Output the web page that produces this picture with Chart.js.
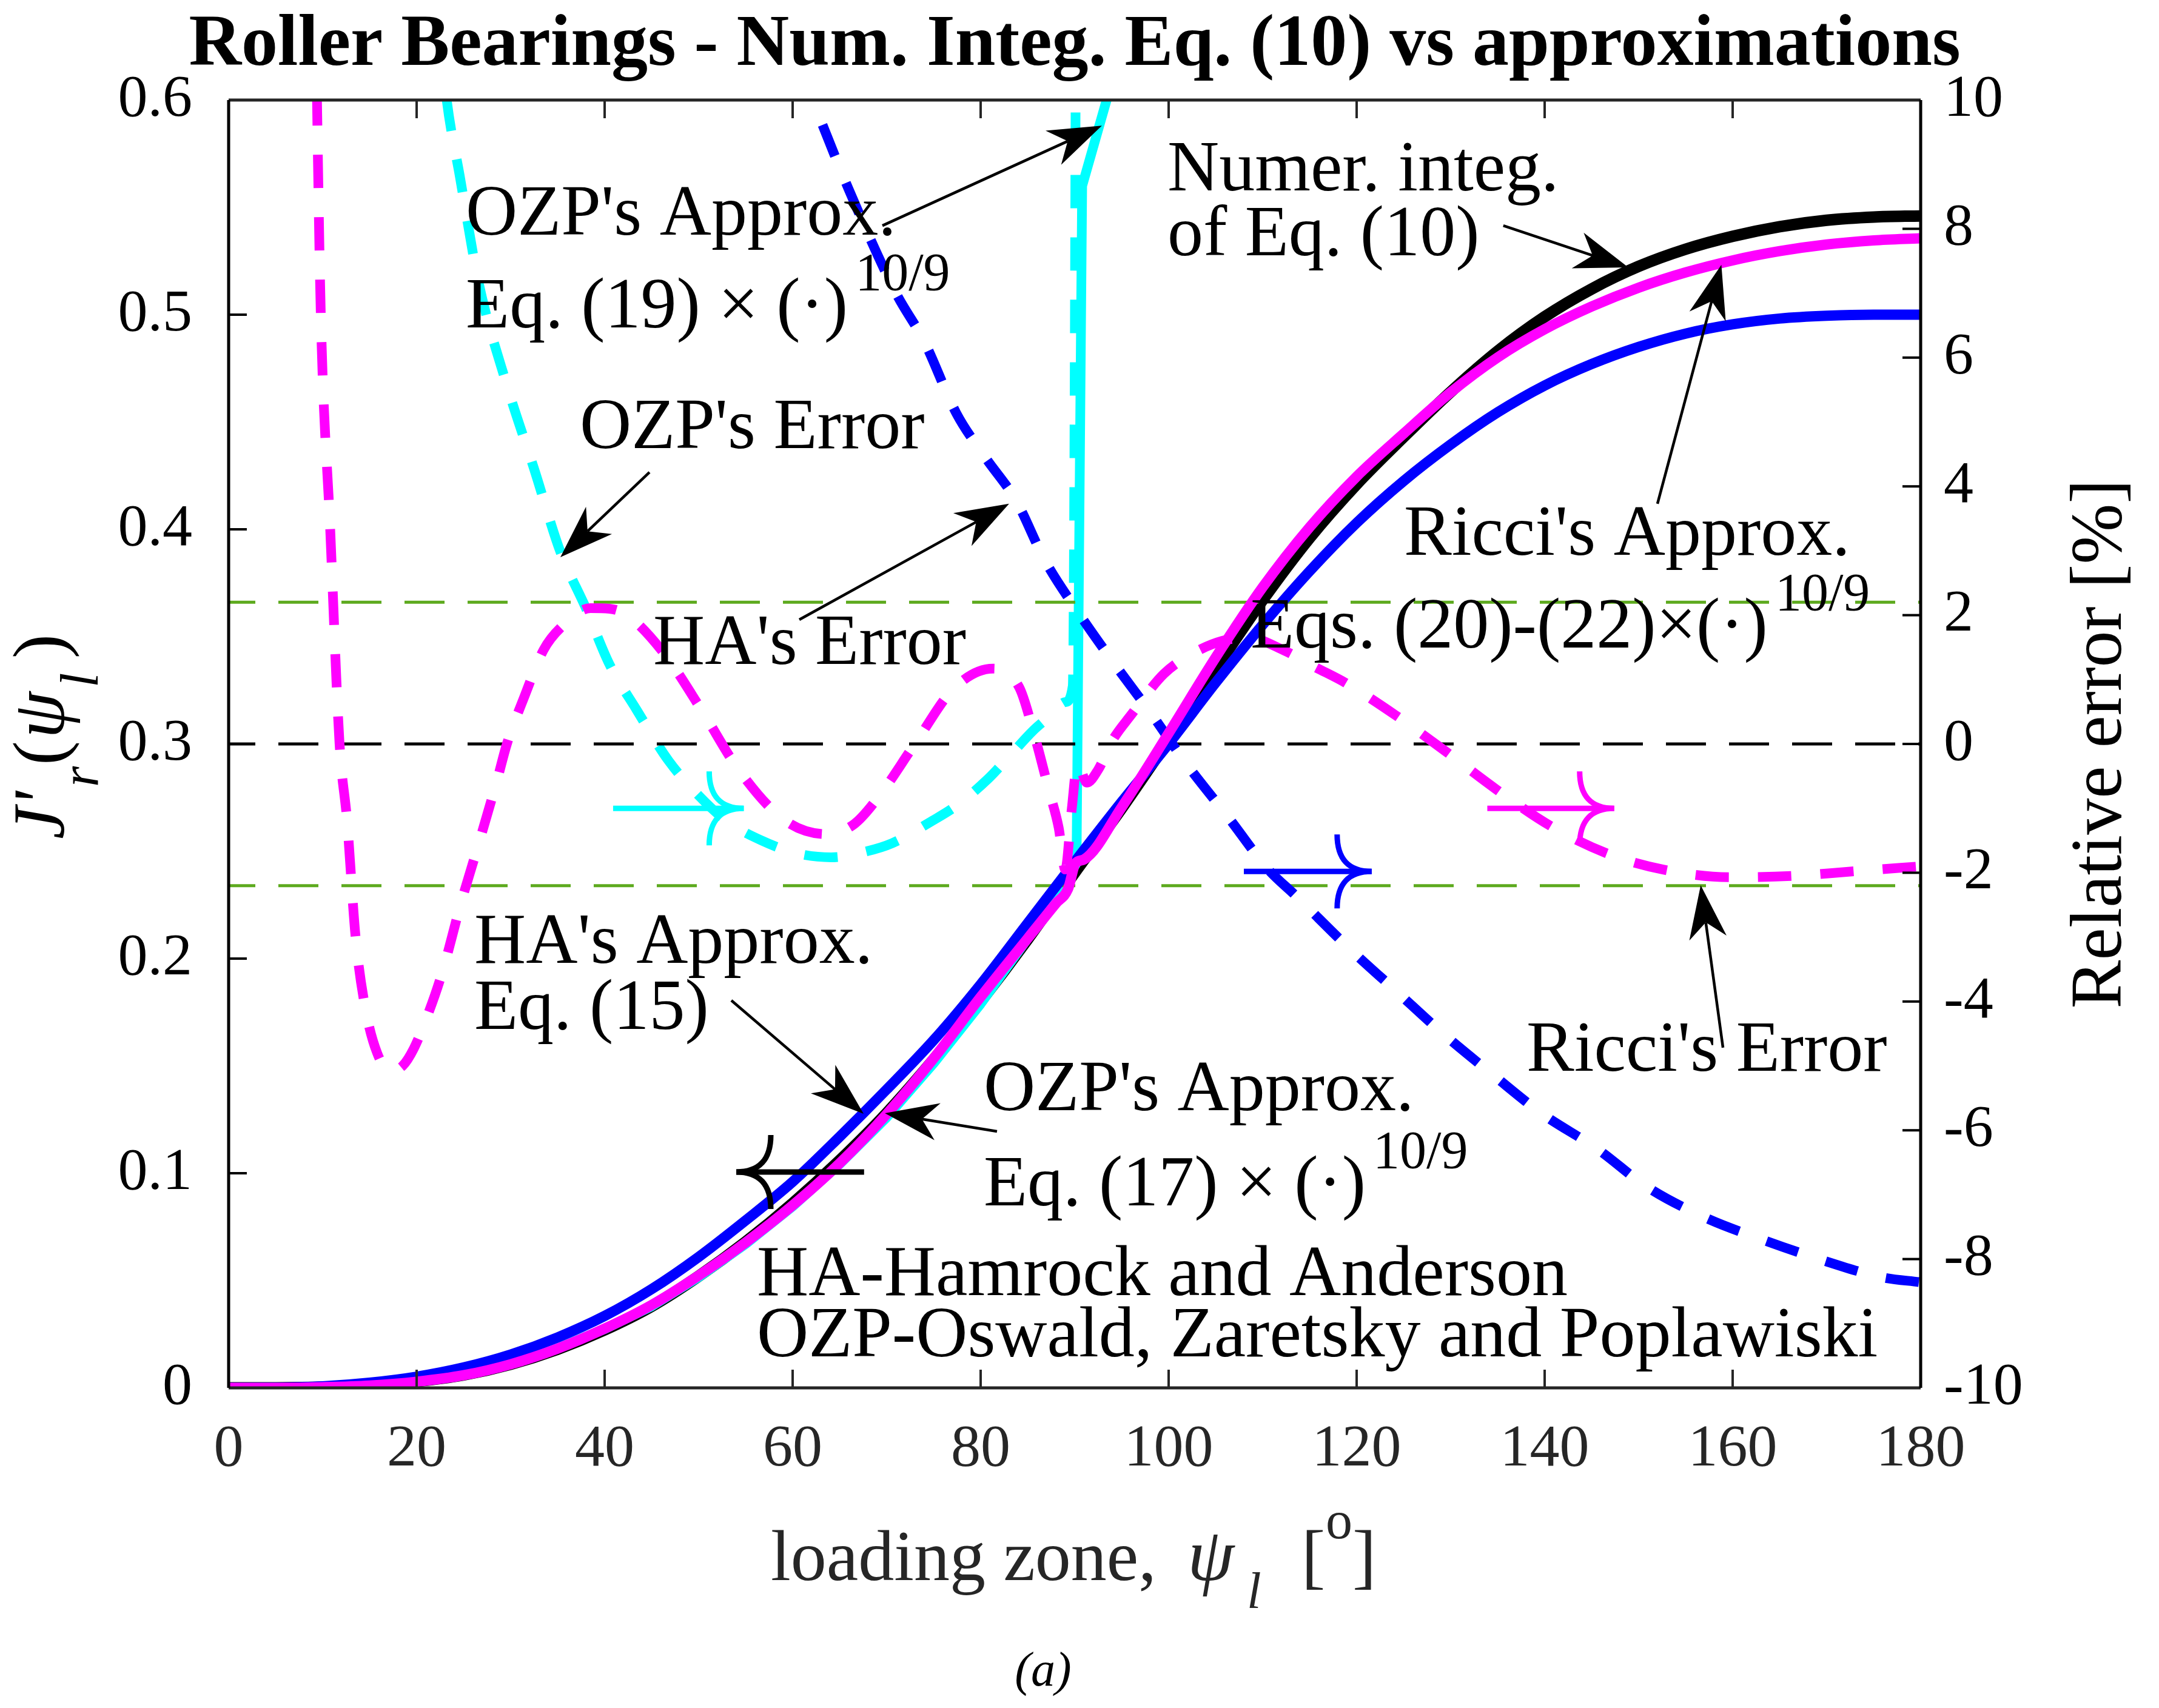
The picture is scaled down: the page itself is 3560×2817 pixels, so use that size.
<!DOCTYPE html>
<html>
<head>
<meta charset="utf-8">
<title>Roller Bearings - Num. Integ. Eq. (10) vs approximations</title>
<script src="https://cdn.jsdelivr.net/npm/chart.js@4.4.1/dist/chart.umd.min.js"></script>
<style>
  html, body { margin: 0; padding: 0; background: #fff; }
  canvas { display: block; }
</style>
</head>
<body>
<canvas id="bearingChart" width="3560" height="2817"></canvas>
<script>
// ---- Solid curves : J'r(psi) (left axis) ----
const psiNum = [0, 5, 10, 15, 20, 25, 30, 35, 40, 45, 50, 55, 60, 65, 70, 75, 80, 85, 90, 95,
                100, 105, 110, 115, 120, 125, 130, 135, 140, 145, 150, 155, 160, 165, 170, 175, 180];
const jNum   = [0, 0.00003, 0.0003, 0.0011, 0.003, 0.006, 0.011, 0.018, 0.027, 0.038, 0.052, 0.068,
                0.086, 0.106, 0.128, 0.153, 0.180, 0.209, 0.240, 0.270, 0.302, 0.335, 0.367, 0.396,
                0.421, 0.443, 0.464, 0.483, 0.499, 0.512, 0.5225, 0.5305, 0.5365, 0.541, 0.544, 0.5455, 0.546];

const psiHa = psiNum;
const jHa   = [0, 0.0001, 0.0007, 0.0024, 0.0052, 0.0095, 0.0155, 0.0235, 0.0335, 0.046, 0.061, 0.078,
               0.096, 0.117, 0.139, 0.162, 0.188, 0.2165, 0.245, 0.273, 0.300, 0.3285, 0.3555, 0.3805,
               0.403, 0.4225, 0.4395, 0.4545, 0.467, 0.477, 0.485, 0.4912, 0.4955, 0.4982, 0.4995, 0.5, 0.5];

const psiRicci = [0, 5, 10, 15, 20, 25, 30, 35, 40, 45, 50, 55, 60, 65, 70, 75, 80, 85, 88, 89.3, 90.1, 91,
                  95, 100, 105, 110, 115, 120, 125, 130, 135, 140, 145, 150, 155, 160, 165, 170, 175, 180];
const jRicci   = [0, 0.00003, 0.0003, 0.00105, 0.00287, 0.00588, 0.0110, 0.0183, 0.0276, 0.0386, 0.0523,
                  0.0677, 0.0850, 0.1046, 0.1275, 0.1535, 0.1821, 0.2094, 0.2257, 0.2325, 0.2445, 0.2462,
                  0.2705, 0.3050, 0.3403, 0.3730, 0.4010, 0.4246, 0.4446, 0.4638, 0.4801, 0.4932, 0.5038,
                  0.5126, 0.5197, 0.5253, 0.5296, 0.5327, 0.5346, 0.5356];

const psiOzp = [0, 5, 10, 15, 20, 25, 30, 35, 40, 45, 50, 55, 60, 65, 70, 75, 80, 85, 88, 90.2, 90.8, 93.4, 96];
const jOzp   = [0, 0.00004, 0.0004, 0.0013, 0.0034, 0.0065, 0.0116, 0.0186, 0.0274, 0.038, 0.0516, 0.067,
                0.0845, 0.1042, 0.126, 0.1512, 0.1789, 0.2094, 0.2289, 0.2445, 0.56, 0.6, 0.64];

// ---- Dashed curves : relative error in % (right axis) ----
const psiHaErr = [58, 62.1, 66, 71, 74, 77.4, 80.5, 83.8, 86.8, 90.3, 94.2, 98, 102, 106.3, 110.6, 113.4,
                  119.4, 124.3, 129.2, 134.6, 139.6, 145.7, 150.9, 157, 163.2, 169.2, 175.8, 180];
const errHa    = [11.4, 10.0, 8.6, 7.0, 6.25, 5.14, 4.45, 3.77, 2.86, 2.06, 1.25, 0.5, -0.33, -1.13, -1.95,
                  -2.34, -3.2, -3.85, -4.5, -5.15, -5.73, -6.3, -6.88, -7.35, -7.7, -8.0, -8.28, -8.36];

const psiOzpErr = [22.5, 23.2, 24.6, 26.6, 29.6, 32.5, 35.3, 38, 40.5, 43.4, 46.8, 50, 53, 56.7, 60.5,
                   64.1, 67.5, 70.6, 74.9, 77.5, 80.8, 83, 85.6, 87.5, 89.0, 89.8, 90.4];
const errOzp    = [11, 10, 8.81, 7.16, 5.57, 4.27, 2.98, 2.11, 1.24, 0.53, -0.26, -0.8, -1.2, -1.5, -1.7,
                   -1.76, -1.68, -1.54, -1.19, -0.95, -0.54, -0.2, 0.21, 0.45, 0.65, 0.9, 25];

const psiRicciErr = [9.0, 9.4, 9.8, 10.8, 11.8, 12.6, 13.5, 14.5, 15.8, 17.2, 18.5, 19.7, 21.2, 22.7, 24.7,
                     26.6, 28.6, 29.6, 31.5, 33.5, 35.5, 38.5, 40.5, 42.4, 46.4, 50.3, 54.3, 59.2, 63.6,
                     66.5, 69.1, 73, 77.2, 81.3, 84.1, 85.6, 87.3, 88.3, 89.0, 89.7, 90.3, 91.3, 92.5, 94,
                     96, 99.5, 102.5, 105.7, 108.5, 112.3, 115.5, 118.8, 124.2, 129.6, 134.9, 140.7, 146.8,
                     152.6, 159.7, 166.2, 172.7, 180];
const errRicci    = [14, 10, 6.7, 3.35, 0, -1.19, -2.99, -4.07, -4.8, -5.08, -5.0, -4.73, -4.2, -3.56, -2.48,
                     -1.55, -0.54, 0, 0.75, 1.46, 1.83, 2.11, 2.1, 2.0, 1.39, 0.53, -0.41, -1.19, -1.40,
                     -1.25, -0.83, 0.0, 0.87, 1.17, 0.88, 0.2, -0.74, -1.3, -1.95, -1.0, -0.3, -0.6, -0.4,
                     0.05, 0.45, 1.09, 1.4, 1.6, 1.65, 1.45, 1.2, 0.95, 0.44, -0.13, -0.71, -1.28, -1.71,
                     -1.95, -2.07, -2.05, -1.98, -1.9];

// reference lines (right axis)
const refPsi  = [0, 180];
const refZero = [0, 0];
const refHigh = [2.2, 2.2];
const refLow  = [-2.2, -2.2];

const FONT = 'Liberation Serif';
const AXIS_GREY = '#262626';

const pairs = (xs, ys) => xs.map((x, i) => ({ x, y: ys[i] }));

// ---- Annotations (positions in data units: psi, J') ----
const notes = [
    { text: "OZP's Approx.", psi: 25.23, j: 0.5373 },
    { text: "Eq. (19) \u00D7 (\u00B7)", psi: 25.23, j: 0.4941, sup: '10/9' },
    { text: 'Numer. integ.', psi: 99.87, j: 0.5579 },
    { text: 'of Eq. (10)', psi: 99.87, j: 0.5277 },
    { text: "OZP's Error", psi: 37.35, j: 0.4379 },
    { text: "HA's Error", psi: 45.16, j: 0.3373 },
    { text: "Ricci's Approx.", psi: 125.03, j: 0.3881 },
    { text: 'Eqs. (20)-(22)\u00D7(\u00B7)', psi: 108.71, j: 0.3449, sup: '10/9' },
    { text: "Ricci's Error", psi: 138.06, j: 0.1477 },
    { text: "HA's Approx.", psi: 26.13, j: 0.1980 },
    { text: 'Eq. (15)', psi: 26.13, j: 0.1672 },
    { text: "OZP's Approx.", psi: 80.32, j: 0.1294 },
    { text: 'Eq. (17) \u00D7 (\u00B7)', psi: 80.32, j: 0.0850, sup: '10/9' },
    { text: 'HA-Hamrock and Anderson', psi: 56.19, j: 0.0432 },
    { text: 'OZP-Oswald, Zaretsky and Poplawiski', psi: 56.19, j: 0.0147 }
];

const pointers = [
    { from: [69.55, 0.5415], to: [92.9, 0.5881] },
    { from: [135.6, 0.5415], to: [148.9, 0.5220] },
    { from: [44.77, 0.4266], to: [35.29, 0.3870] },
    { from: [60.71, 0.3579], to: [83.03, 0.4119] },
    { from: [152.0, 0.4119], to: [158.8, 0.5232] },
    { from: [158.97, 0.1585], to: [156.6, 0.2342] },
    { from: [53.48, 0.1805], to: [67.55, 0.1277] },
    { from: [81.74, 0.1195], to: [69.81, 0.1280] }
];

// axis indicators (TeX style arrows) : axis id, psi start/end, value
const axisHints = [
    { axis: 'y1', from: 40.9, to: 54.8, v: -1.0, color: '#00FFFF' },
    { axis: 'y1', from: 108.0, to: 121.6, v: -1.98, color: '#0000FF' },
    { axis: 'y1', from: 133.9, to: 147.4, v: -1.0, color: '#FF00FF' },
    { axis: 'y', from: 67.6, to: 54.0, v: 0.1006, color: '#000000' }
];

function drawPointer(ctx, p0, p1) {
    const ang = Math.atan2(p1.y - p0.y, p1.x - p0.x);
    const L = 88, W = 31, N = 62;
    ctx.strokeStyle = '#000';
    ctx.fillStyle = '#000';
    ctx.lineWidth = 4.5;
    ctx.beginPath();
    ctx.moveTo(p0.x, p0.y);
    ctx.lineTo(p1.x - N * Math.cos(ang), p1.y - N * Math.sin(ang));
    ctx.stroke();
    ctx.save();
    ctx.translate(p1.x, p1.y);
    ctx.rotate(ang);
    ctx.beginPath();
    ctx.moveTo(0, 0);
    ctx.lineTo(-L, -W);
    ctx.lineTo(-N, 0);
    ctx.lineTo(-L, W);
    ctx.closePath();
    ctx.fill();
    ctx.restore();
}

function drawHint(ctx, x0, x1, y, color) {
    const dir = Math.sign(x1 - x0);
    const L = 57, H = 61;
    ctx.strokeStyle = color;
    ctx.lineWidth = 9;
    ctx.lineCap = 'butt';
    ctx.beginPath();
    ctx.moveTo(x0, y);
    ctx.lineTo(x1, y);
    ctx.stroke();
    ctx.beginPath();
    ctx.moveTo(x1 - dir * L, y - H);
    ctx.quadraticCurveTo(x1 - dir * L, y, x1, y);
    ctx.quadraticCurveTo(x1 - dir * L, y, x1 - dir * L, y + H);
    ctx.stroke();
}

const decorPlugin = {
    id: 'decor',
    beforeDraw(chart) {
        const ctx = chart.ctx;
        ctx.save();
        ctx.fillStyle = '#fff';
        ctx.fillRect(0, 0, chart.width, chart.height);
        ctx.restore();
    },
    afterDatasetsDraw(chart) {
        const ctx = chart.ctx;
        const { left, right, top, bottom } = chart.chartArea;
        const sx = chart.scales.x, sy = chart.scales.y, sy1 = chart.scales.y1;
        ctx.save();

        // axes box + inward ticks
        ctx.lineCap = 'butt';
        ctx.lineWidth = 4;
        ctx.strokeStyle = AXIS_GREY;
        sx.ticks.forEach(t => {
            const x = sx.getPixelForValue(t.value);
            ctx.beginPath();
            ctx.moveTo(x, bottom); ctx.lineTo(x, bottom - 30);
            ctx.moveTo(x, top); ctx.lineTo(x, top + 30);
            ctx.stroke();
        });
        ctx.strokeStyle = '#000';
        sy.ticks.forEach(t => {
            const y = sy.getPixelForValue(t.value);
            ctx.beginPath(); ctx.moveTo(left, y); ctx.lineTo(left + 30, y); ctx.stroke();
        });
        sy1.ticks.forEach(t => {
            const y = sy1.getPixelForValue(t.value);
            ctx.beginPath(); ctx.moveTo(right, y); ctx.lineTo(right - 30, y); ctx.stroke();
        });
        ctx.lineWidth = 5;
        ctx.strokeStyle = AXIS_GREY;
        ctx.beginPath();
        ctx.moveTo(left, bottom); ctx.lineTo(right, bottom);
        ctx.moveTo(left, top); ctx.lineTo(right, top);
        ctx.stroke();
        ctx.strokeStyle = '#000';
        ctx.beginPath();
        ctx.moveTo(left, top); ctx.lineTo(left, bottom);
        ctx.moveTo(right, top); ctx.lineTo(right, bottom);
        ctx.stroke();

        // axis direction hints
        axisHints.forEach(h => {
            const sc = chart.scales[h.axis];
            drawHint(ctx, sx.getPixelForValue(h.from), sx.getPixelForValue(h.to),
                     sc.getPixelForValue(h.v), h.color);
        });

        // pointers
        pointers.forEach(p => {
            drawPointer(ctx,
                { x: sx.getPixelForValue(p.from[0]), y: sy.getPixelForValue(p.from[1]) },
                { x: sx.getPixelForValue(p.to[0]), y: sy.getPixelForValue(p.to[1]) });
        });

        // annotation texts
        ctx.fillStyle = '#000';
        ctx.textBaseline = 'alphabetic';
        ctx.textAlign = 'left';
        notes.forEach(n => {
            const x = sx.getPixelForValue(n.psi);
            const y = sy.getPixelForValue(n.j);
            ctx.font = `118px "${FONT}"`;
            ctx.fillText(n.text, x, y);
            if (n.sup) {
                const w = ctx.measureText(n.text).width;
                ctx.font = `88px "${FONT}"`;
                ctx.fillText(n.sup, x + w + 12, y - 62);
            }
        });

        // title
        ctx.textAlign = 'center';
        ctx.font = `bold 120px "${FONT}"`;
        ctx.fillText('Roller Bearings - Num. Integ. Eq. (10) vs approximations', (left + right) / 2, 107);

        // x label : loading zone, psi_l [o]
        ctx.textAlign = 'left';
        ctx.fillStyle = AXIS_GREY;
        ctx.font = `118px "${FONT}"`;
        ctx.fillText('loading zone,', 1271, 2606);
        ctx.font = `italic 124px "${FONT}"`;
        ctx.fillText('\u03C8', 1958, 2606);
        ctx.font = `italic 85px "${FONT}"`;
        ctx.fillText('l', 2056, 2652);
        ctx.font = `118px "${FONT}"`;
        ctx.fillText('[', 2146, 2606);
        ctx.font = `88px "${FONT}"`;
        ctx.fillText('o', 2186, 2537);
        ctx.font = `118px "${FONT}"`;
        ctx.fillText(']', 2230, 2606);

        // left y label : J'_r(psi_l)
        ctx.fillStyle = '#000';
        ctx.save();
        ctx.translate(105, 1384);
        ctx.rotate(-Math.PI / 2);
        const piece = (txt, font, u, dv) => {
            ctx.font = font;
            ctx.fillText(txt, u, dv);
        };
        piece("J'", `italic 120px "${FONT}"`, 0, 0);
        piece('r', `italic 88px "${FONT}"`, 86, 56);
        piece('(', `120px "${FONT}"`, 122, 0);
        piece('\u03C8', `italic 124px "${FONT}"`, 166, 0);
        piece('l', `italic 88px "${FONT}"`, 250, 56);
        piece(')', `120px "${FONT}"`, 298, 0);
        ctx.restore();

        // right y label
        ctx.save();
        ctx.translate(3497, 1227);
        ctx.rotate(-Math.PI / 2);
        ctx.textAlign = 'center';
        ctx.font = `120px "${FONT}"`;
        ctx.fillText('Relative error [%]', 0, 0);
        ctx.restore();

        // sub-figure tag
        ctx.textAlign = 'center';
        ctx.font = `italic 80px "${FONT}"`;
        ctx.fillText('(a)', 1720, 2780);

        ctx.restore();
    }
};

const solid = (label, xs, ys, color, width, order, smooth = true) => ({
    label, data: pairs(xs, ys), yAxisID: 'y',
    borderColor: color, borderWidth: width, fill: false,
    pointRadius: 0, tension: 0, order, clip: 0,
    cubicInterpolationMode: smooth ? 'monotone' : 'default',
    borderJoinStyle: 'round'
});
const dashed = (label, xs, ys, color, order) => ({
    label, data: pairs(xs, ys), yAxisID: 'y1',
    borderColor: color, borderWidth: 16, borderDash: [55, 48], borderCapStyle: 'butt',
    fill: false, pointRadius: 0, cubicInterpolationMode: 'monotone', order, clip: 0
});
const refLine = (label, ys, color, order) => ({
    label, data: pairs(refPsi, ys), yAxisID: 'y1',
    borderColor: color, borderWidth: 5, borderDash: [66, 38], borderDashOffset: 22,
    fill: false, pointRadius: 0, tension: 0, order, clip: 0
});

const tickFont = { family: FONT, size: 98 };

new Chart(document.getElementById('bearingChart').getContext('2d'), {
    type: 'line',
    data: {
        datasets: [
            solid('Numer. integ. Eq. (10)', psiNum, jNum, '#000000', 19, 12),
            solid("OZP's Approx.", psiOzp, jOzp, '#00FFFF', 16, 11, false),
            dashed("OZP's Error", psiOzpErr, errOzp, '#00FFFF', 10),
            refLine('zero', refZero, '#000000', 9),
            refLine('+2.2%', refHigh, '#5DAA1E', 9),
            refLine('-2.2%', refLow, '#5DAA1E', 9),
            solid("HA's Approx.", psiHa, jHa, '#0000FF', 17, 6),
            dashed("HA's Error", psiHaErr, errHa, '#0000FF', 5),
            solid("Ricci's Approx.", psiRicci, jRicci, '#FF00FF', 17, 4),
            dashed("Ricci's Error", psiRicciErr, errRicci, '#FF00FF', 3)
        ]
    },
    options: {
        responsive: false,
        animation: false,
        devicePixelRatio: 1,
        layout: { padding: { top: 165, left: 0, right: 0, bottom: 0 } },
        plugins: {
            legend: { display: false },
            tooltip: { enabled: false },
            title: { display: false }
        },
        scales: {
            x: {
                type: 'linear', min: 0, max: 180,
                grid: { display: false }, border: { display: false },
                ticks: { stepSize: 20, autoSkip: false, maxRotation: 0, padding: 35,
                         color: AXIS_GREY, font: tickFont, callback: v => String(v) },
                afterFit: s => { s.height = 528; }
            },
            y: {
                position: 'left', min: 0, max: 0.6,
                grid: { display: false }, border: { display: false },
                ticks: { stepSize: 0.1, autoSkip: false, padding: 52, color: '#000',
                         font: tickFont, callback: v => String(Math.round(v * 10) / 10) },
                afterFit: s => { s.width = 377; }
            },
            y1: {
                position: 'right', min: -10, max: 10,
                grid: { display: false }, border: { display: false },
                ticks: { stepSize: 2, autoSkip: false, padding: 30, color: '#000',
                         font: tickFont, callback: v => String(v) },
                afterFit: s => { s.width = 393; }
            }
        }
    },
    plugins: [decorPlugin]
});
</script>
</body>
</html>
